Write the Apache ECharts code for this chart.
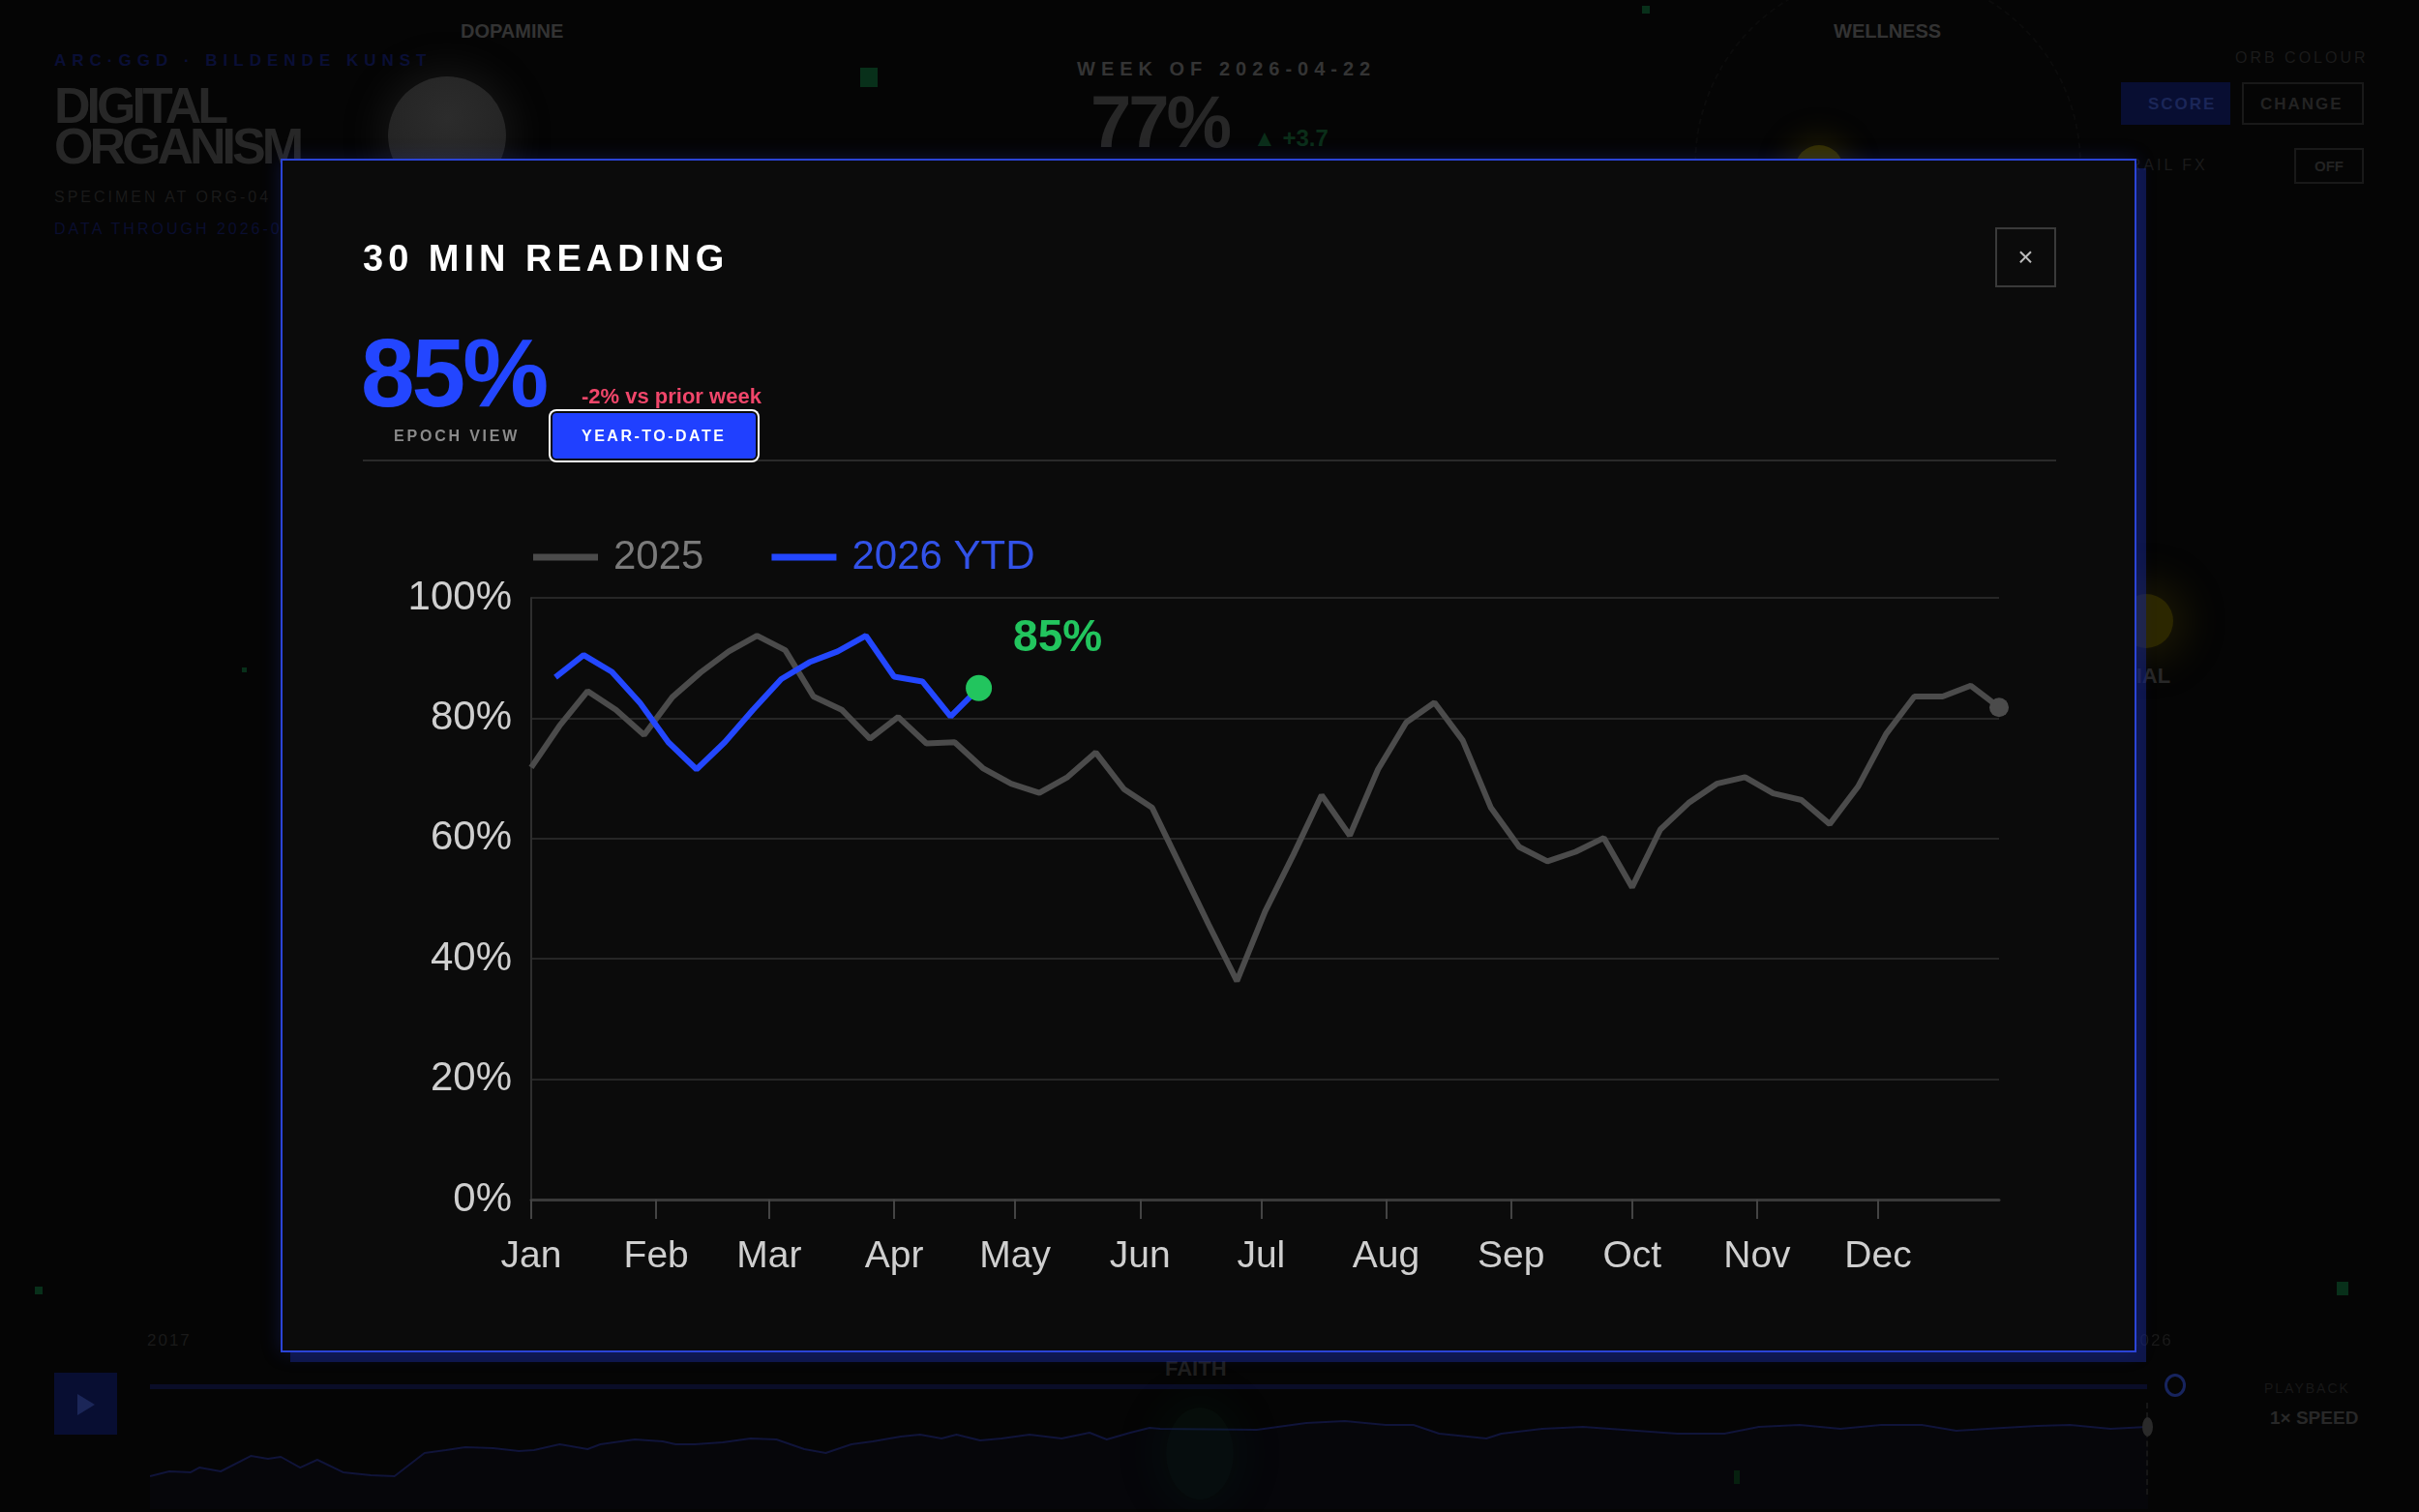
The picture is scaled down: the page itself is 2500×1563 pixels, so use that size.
<!DOCTYPE html>
<html>
<head>
<meta charset="utf-8">
<script src="https://cdn.jsdelivr.net/npm/echarts@6/dist/echarts.min.js"></script>
<style>
  html, body { margin: 0; padding: 0; }
  body {
    width: 2500px; height: 1563px; overflow: hidden; position: relative;
    background: #050505; font-family: "Liberation Sans", Arial, Helvetica, sans-serif;
  }
  .abs { position: absolute; white-space: nowrap; line-height: 1; }
  .orb { position: absolute; border-radius: 50%; }
  .dot { position: absolute; background: #08301a; }
  #modal {
    position: absolute; left: 290px; top: 164px; width: 1918px; height: 1234px;
    box-sizing: border-box; border: 2px solid #2b44d6; background: #0b0b0b;
    box-shadow: 10px 10px 0 rgba(22, 36, 130, 0.55), 0 0 18px rgba(40, 60, 200, 0.25);
  }
  #chart { position: absolute; left: 375px; top: 500px; width: 1800px; height: 860px; }
  #spark { position: absolute; left: 155px; top: 1440px; width: 2145px; height: 120px; }
</style>
</head>
<body>

<!-- dimmed dashboard behind the modal -->
<div id="spark"></div>
<div class="abs" style="left:2218px;top:1450px;width:0;height:95px;border-left:2px dashed #161616;"></div>
<div class="orb" style="left:2214px;top:1465px;width:11px;height:20px;background:#2a2a2a;"></div>

<div class="orb" style="left:401px;top:79px;width:122px;height:122px;background:radial-gradient(circle at 50% 35%, #2c2c2c, #202020);box-shadow:0 0 36px 10px rgba(50,50,50,0.3);"></div>
<div class="orb" style="left:1855px;top:150px;width:50px;height:50px;background:#353000;box-shadow:0 0 30px 10px rgba(80,70,0,0.3);"></div>
<div class="orb" style="left:2190px;top:614px;width:56px;height:56px;background:#2c2700;box-shadow:0 0 40px 14px rgba(80,70,0,0.28);"></div>
<div class="orb" style="left:1751px;top:-30px;width:400px;height:400px;border:2px dashed #0b0b0b;box-sizing:border-box;"></div>

<div class="dot" style="left:889px;top:70px;width:18px;height:20px;"></div>
<div class="dot" style="left:1697px;top:6px;width:8px;height:8px;"></div>
<div class="dot" style="left:250px;top:690px;width:5px;height:5px;"></div>
<div class="dot" style="left:36px;top:1330px;width:8px;height:8px;"></div>
<div class="dot" style="left:2415px;top:1325px;width:12px;height:14px;"></div>
<div class="dot" style="left:1792px;top:1520px;width:6px;height:14px;background:#06200f;"></div>

<div class="abs" style="left:476px;top:22px;font-size:20px;font-weight:bold;color:#333333;">DOPAMINE</div>
<div class="abs" style="left:1895px;top:22px;font-size:20px;font-weight:bold;color:#333333;">WELLNESS</div>

<div class="abs" style="left:56px;top:54px;font-size:17px;font-weight:bold;letter-spacing:6px;color:#0a0f36;">ARC·GGD · BILDENDE KUNST</div>
<div class="abs" style="left:56px;top:83px;font-size:52px;font-weight:bold;letter-spacing:-4px;color:#272727;">DIGITAL</div>
<div class="abs" style="left:56px;top:125px;font-size:52px;font-weight:bold;letter-spacing:-4px;color:#272727;">ORGANISM</div>
<div class="abs" style="left:56px;top:196px;font-size:16px;letter-spacing:3px;color:#1a1a1a;">SPECIMEN AT ORG-04</div>
<div class="abs" style="left:56px;top:229px;font-size:16px;letter-spacing:3px;color:#0a0e30;">DATA THROUGH 2026-06</div>

<div class="abs" style="left:1113px;top:61px;font-size:20px;font-weight:bold;letter-spacing:6px;color:#343434;">WEEK OF 2026-04-22</div>
<div class="abs" style="left:1127px;top:88px;font-size:76px;font-weight:bold;letter-spacing:-3px;color:#272727;">77%</div>
<div class="abs" style="left:1295px;top:131px;font-size:24px;font-weight:bold;color:#0b2e19;">▲ +3.7</div>

<div class="abs" style="left:2310px;top:52px;font-size:16px;letter-spacing:3px;color:#1b1b1b;">ORB COLOUR</div>
<div class="abs" style="left:2192px;top:85px;width:113px;height:44px;background:#080e32;"></div>
<div class="abs" style="left:2220px;top:99px;font-size:17px;font-weight:bold;letter-spacing:2px;color:#1b2658;">SCORE</div>
<div class="abs" style="left:2317px;top:85px;width:126px;height:44px;border:2px solid #191919;box-sizing:border-box;"></div>
<div class="abs" style="left:2336px;top:99px;font-size:17px;font-weight:bold;letter-spacing:2px;color:#232323;">CHANGE</div>
<div class="abs" style="left:2188px;top:163px;font-size:16px;letter-spacing:3px;color:#1b1b1b;">TRAIL FX</div>
<div class="abs" style="left:2371px;top:153px;width:72px;height:37px;border:2px solid #191919;box-sizing:border-box;"></div>
<div class="abs" style="left:2392px;top:164px;font-size:15px;font-weight:bold;color:#232323;">OFF</div>
<div class="abs" style="left:2160px;top:688px;font-size:22px;font-weight:bold;color:#282828;">SOCIAL</div>

<div class="abs" style="left:152px;top:1377px;font-size:17px;letter-spacing:2px;color:#1a1a1a;">2017</div>
<div class="abs" style="left:2200px;top:1377px;font-size:17px;letter-spacing:2px;color:#1a1a1a;">2026</div>
<div class="abs" style="left:1204px;top:1404px;font-size:22px;font-weight:bold;color:#202020;">FAITH</div>
<div class="abs" style="left:56px;top:1419px;width:65px;height:64px;background:#080e32;"></div>
<div class="abs" style="left:80px;top:1441px;width:0;height:0;border-left:18px solid #1b2658;border-top:11px solid transparent;border-bottom:11px solid transparent;"></div>
<div class="abs" style="left:155px;top:1431px;width:2064px;height:5px;background:#0a0d28;"></div>
<div class="orb" style="left:2237px;top:1420px;width:22px;height:24px;border:3px solid #17245e;box-sizing:border-box;"></div>
<div class="orb" style="left:1205px;top:1455px;width:70px;height:95px;background:rgba(8,45,30,0.2);box-shadow:0 0 36px 16px rgba(8,45,30,0.14);"></div>
<div class="abs" style="left:2340px;top:1428px;font-size:14px;letter-spacing:2px;color:#181818;">PLAYBACK</div>
<div class="abs" style="left:2346px;top:1456px;font-size:19px;font-weight:bold;color:#282828;">1× SPEED</div>

<!-- modal -->
<div id="modal"></div>
<div class="abs" style="left:375px;top:248px;font-size:38px;font-weight:bold;letter-spacing:5px;color:#ffffff;">30 MIN READING</div>
<div class="abs" style="left:2062px;top:235px;width:63px;height:62px;border:2px solid #3a3a3a;box-sizing:border-box;color:#bbbbbb;font-size:28px;text-align:center;line-height:58px;">×</div>

<div class="abs" style="left:373px;top:335px;font-size:100px;font-weight:bold;letter-spacing:-3px;color:#2346ff;">85%</div>
<div class="abs" style="left:601px;top:399px;font-size:22px;font-weight:bold;color:#f0466a;">-2% vs prior week</div>
<div class="abs" style="left:375px;top:475px;width:1750px;height:2px;background:#2a2a2a;"></div>
<div class="abs" style="left:407px;top:443px;font-size:16px;font-weight:bold;letter-spacing:2.8px;color:#8a8a8a;">EPOCH VIEW</div>
<div class="abs" style="left:569px;top:425px;width:214px;height:51px;box-sizing:border-box;background:#2040ff;border:2px solid #0b0b0b;border-radius:6px;box-shadow:0 0 0 2px #ffffff;"></div>
<div class="abs" style="left:601px;top:443px;font-size:16px;font-weight:bold;letter-spacing:2.5px;color:#ffffff;">YEAR-TO-DATE</div>

<div id="chart"></div>

<script>
// 月份刻度（一年中的第几天）
const MONTHS = ['Jan', 'Feb', 'Mar', 'Apr', 'May', 'Jun', 'Jul', 'Aug', 'Sep', 'Oct', 'Nov', 'Dec'];
const MONTH_START_DAYS = [0, 31, 59, 90, 120, 151, 181, 212, 243, 273, 304, 334];
const YEAR_DAYS = 364;

// 2025 全年，每周一个点
const DAYS_2025 = [0, 7, 14, 21, 28, 35, 42, 49, 56, 63, 70, 77, 84, 91, 98, 105, 112, 119, 126, 133,
  140, 147, 154, 161, 168, 175, 182, 189, 196, 203, 210, 217, 224, 231, 238, 245, 252, 259, 266, 273,
  280, 287, 294, 301, 308, 315, 322, 329, 336, 343, 350, 357, 364];
const VALUES_2025 = [71.8, 78.7, 84.5, 81.4, 77.2, 83.5, 87.6, 91.1, 93.7, 91.3, 83.6, 81.4, 76.6, 80.2,
  75.8, 76.0, 71.7, 69.1, 67.6, 70.2, 74.3, 68.2, 65.1, 55.4, 45.7, 36.3, 47.9, 57.3, 67.2, 60.5,
  71.5, 79.3, 82.6, 76.3, 65.1, 58.6, 56.2, 57.8, 60.1, 51.9, 61.5, 65.9, 69.1, 70.2, 67.5, 66.4,
  62.4, 68.6, 77.4, 83.6, 83.6, 85.4, 81.8];

// 2026 年初至今
const DAYS_2026 = [6, 13, 20, 27, 34, 41, 48, 55, 62, 69, 76, 83, 90, 97, 104, 111];
const VALUES_2026 = [86.8, 90.5, 87.7, 82.5, 76.0, 71.5, 76.0, 81.4, 86.5, 89.3, 91.1, 93.7, 86.9, 86.1, 80.3, 85];

const SERIES_NAMES = ['2025', '2026 YTD'];

// 背景里的历史曲线（2017 至今）
const SPARK_YEARS = [2017.00, 2017.09, 2017.19, 2017.23, 2017.33, 2017.47, 2017.55, 2017.61, 2017.70, 2017.78,
  2017.90, 2018.03, 2018.14, 2018.28, 2018.38, 2018.47, 2018.60, 2018.72, 2018.79, 2018.91,
  2019.04, 2019.10, 2019.26, 2019.39, 2019.45, 2019.54, 2019.67, 2019.80, 2019.92, 2020.05,
  2020.15, 2020.27, 2020.37, 2020.50, 2020.59, 2020.69, 2020.76, 2020.87, 2020.97, 2021.10,
  2021.25, 2021.38, 2021.46, 2021.57, 2021.66, 2021.71, 2022.16, 2022.39, 2022.57, 2022.76,
  2022.89, 2023.01, 2023.23, 2023.30, 2023.49, 2023.68, 2023.93, 2024.12, 2024.34, 2024.50,
  2024.69, 2024.88, 2025.07, 2025.26, 2025.42, 2025.64, 2025.80, 2025.95, 2026.14, 2026.31, 2026.46];
const SPARK_VALUES = [28.3, 32.5, 31.7, 35.8, 32.5, 45.8, 43.3, 45.0, 35.8, 42.5,
  31.7, 29.2, 28.3, 48.3, 50.8, 53.3, 52.5, 50.0, 50.8, 55.8,
  51.7, 55.8, 60.0, 58.3, 55.8, 55.8, 57.5, 60.8, 60.0, 51.7,
  48.3, 55.8, 58.3, 62.5, 64.2, 60.8, 64.2, 59.2, 60.8, 64.2,
  60.8, 65.8, 60.0, 65.8, 70.0, 69.2, 68.3, 74.2, 75.8, 72.5,
  72.5, 65.0, 60.8, 65.0, 69.2, 70.8, 67.5, 65.0, 65.0, 70.8,
  72.5, 69.2, 72.5, 72.5, 67.5, 70.0, 71.7, 72.5, 69.2, 70.8, 66.7];
const SPARK_START = 2017;
const SPARK_NOW = 2026.31;

let chart = echarts.init(document.getElementById('chart'), null, { renderer: 'canvas' });

let grayData = DAYS_2025.map((d, i) => {
  if (i === DAYS_2025.length - 1) {
    return { value: [d, VALUES_2025[i]], symbol: 'circle', symbolSize: 20 };
  }
  return [d, VALUES_2025[i]];
});

let blueData = DAYS_2026.map((d, i) => {
  if (i === DAYS_2026.length - 1) {
    return {
      value: [d, VALUES_2026[i]],
      symbol: 'circle',
      symbolSize: 27,
      itemStyle: { color: '#22c55e' },
      label: {
        show: true,
        position: 'right',
        distance: 22,
        offset: [0, -51],
        formatter: p => p.value[1] + '%',
        color: '#22c55e',
        fontSize: 46,
        fontWeight: 'bold'
      }
    };
  }
  return [d, VALUES_2026[i]];
});

chart.setOption({
  animation: false,
  backgroundColor: 'transparent',
  textStyle: { fontFamily: '"Liberation Sans", Arial, Helvetica, sans-serif' },
  legend: {
    left: 171,
    top: 50,
    icon: 'rect',
    itemWidth: 67,
    itemHeight: 7,
    itemGap: 70,
    textStyle: { fontSize: 42, padding: [0, 0, 0, 11] },
    data: [
      { name: SERIES_NAMES[0], textStyle: { color: '#7a7a7a' } },
      { name: SERIES_NAMES[1], textStyle: { color: '#3252e8' } }
    ]
  },
  grid: { left: 174, right: 109, top: 118, bottom: 120 },
  xAxis: {
    type: 'value',
    min: 0,
    max: YEAR_DAYS,
    splitLine: { show: false },
    axisLine: { show: true, lineStyle: { color: '#3a3a3a', width: 3 } },
    axisTick: {
      show: true,
      customValues: MONTH_START_DAYS,
      length: 20,
      lineStyle: { color: '#444444', width: 2 }
    },
    axisLabel: {
      customValues: MONTH_START_DAYS,
      formatter: v => MONTHS[MONTH_START_DAYS.indexOf(v)],
      color: '#cfcfcf',
      fontSize: 39,
      margin: 40
    }
  },
  yAxis: {
    type: 'value',
    min: 0,
    max: 100,
    interval: 20,
    axisLine: { show: true, lineStyle: { color: '#2e2e2e', width: 2 } },
    axisTick: { show: false },
    splitLine: { lineStyle: { color: '#262626', width: 2 } },
    axisLabel: {
      formatter: '{value}%',
      color: '#cfcfcf',
      fontSize: 42,
      margin: 20,
      padding: [8, 0, 0, 0]
    }
  },
  series: [
    {
      name: SERIES_NAMES[0],
      type: 'line',
      data: grayData,
      color: '#4b4b4b',
      symbol: 'none',
      showSymbol: true,
      lineStyle: { width: 6, color: '#4b4b4b' },
      itemStyle: { color: '#4b4b4b' },
      z: 2
    },
    {
      name: SERIES_NAMES[1],
      type: 'line',
      data: blueData,
      color: '#2347ff',
      symbol: 'none',
      showSymbol: true,
      lineStyle: { width: 6, color: '#2347ff' },
      itemStyle: { color: '#2347ff' },
      z: 3
    }
  ]
});

// 底部播放条上的暗色历史曲线
let spark = echarts.init(document.getElementById('spark'), null, { renderer: 'canvas' });
spark.setOption({
  animation: false,
  grid: { left: 0, right: 81, top: 0, bottom: 0 },
  xAxis: { type: 'value', min: SPARK_START, max: SPARK_NOW, show: false },
  yAxis: { type: 'value', min: 0, max: 100, show: false },
  series: [{
    type: 'line',
    clip: false,
    symbol: 'none',
    data: SPARK_YEARS.map((t, i) => [t, SPARK_VALUES[i]]),
    lineStyle: { width: 2, color: '#10143a' },
    areaStyle: { color: 'rgba(10, 12, 36, 0.22)' }
  }]
});
</script>
</body>
</html>
